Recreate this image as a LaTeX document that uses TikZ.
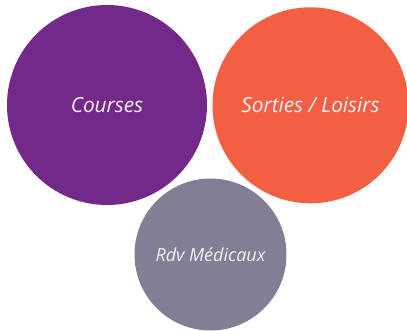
\documentclass[tikz,border=0pt]{standalone}
\usepackage{fontspec}
\setmainfont{Open Sans}
\definecolor{violet}{HTML}{73298A}
\definecolor{corail}{HTML}{F25F43}
\definecolor{ardoise}{HTML}{817E96}

\begin{document}
\begin{tikzpicture}[x=1pt, y=-1pt, font=\itshape\fontsize{20.8}{24}\selectfont]
      \useasboundingbox (0, 0) rectangle (407, 331);
      \tikzset{bulle/.style={circle, inner sep=0pt, text=white!94!violet}}

      \node [bulle, fill=violet, minimum size=200pt] (courses) at (107, 105) {Courses};
      \node [bulle, fill=corail, minimum size=196pt] (sorties) at (310.5, 105.3) {Sorties / Loisirs};
      \node [bulle, fill=ardoise, minimum size=152pt,
             font=\itshape\fontsize{18}{21}\selectfont] (rdv) at (210.5, 254.5) {Rdv Médicaux};

   \end{tikzpicture}
\end{document}
